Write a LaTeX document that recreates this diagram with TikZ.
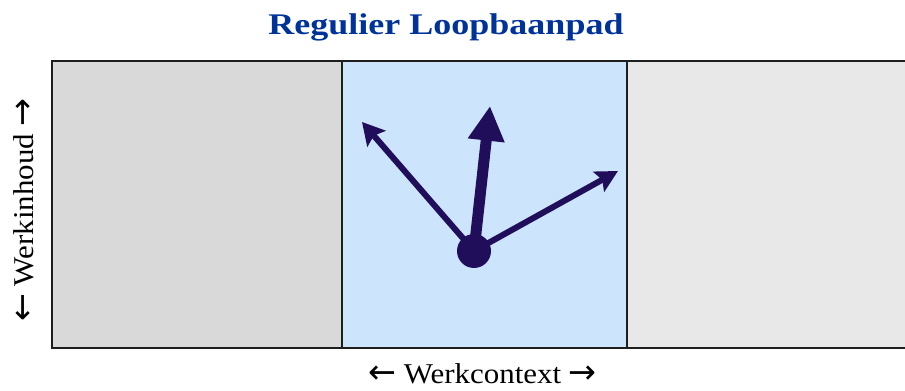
\documentclass[tikz,border=0pt]{standalone}
\usepackage{fontspec}
\usetikzlibrary{arrows.meta}
\newfontfamily\titlefont[FakeStretch=1.2]{Liberation Serif}
\newfontfamily\labelfont[FakeStretch=1.08]{Liberation Serif}
\newfontfamily\arrowfont{DejaVu Sans}
\newcommand{\larr}{{\arrowfont\fontsize{25}{28}\selectfont ←}}
\newcommand{\rarr}{{\arrowfont\fontsize{25}{28}\selectfont →}}
\definecolor{titleblue}{RGB}{0,51,153}
\definecolor{arrownavy}{RGB}{32,14,90}
\definecolor{panelleft}{RGB}{217,217,217}
\definecolor{panelmid}{RGB}{204,228,252}
\definecolor{panelright}{RGB}{232,232,232}
\definecolor{borderc}{RGB}{30,30,30}
\begin{document}
\begin{tikzpicture}[x=0.75pt,y=-0.75pt,
  panel/.style={draw=borderc,line width=1.5pt},
  careerarrow/.style={draw=arrownavy,line cap=butt},
  titletext/.style={font=\titlefont\fontsize{22.5}{27}\bfseries\selectfont,text=titleblue,inner sep=0pt},
  axistext/.style={font=\labelfont\fontsize{21.5}{26}\selectfont,text=black,inner sep=0pt}]
\useasboundingbox (0,0) rectangle (905,391);
\clip (0,0) rectangle (905,391);
% panels
\fill[panelleft] (52,61) rectangle (342,348);
\fill[panelmid] (342,61) rectangle (627,348);
\fill[panelright] (627,61) rectangle (912,348);
\draw[panel] (342,61) -- (342,348);
\draw[panel] (627,61) -- (627,348);
\draw[panel] (912,61) -- (52,61) -- (52,348) -- (912,348);
% texts
\node[titletext,anchor=base] (title) at (446,34.3) {Regulier Loopbaanpad};
\node[axistext,anchor=base] (xlabel) at (482.5,383.5) {\larr\ Werkcontext \rarr};
\node[axistext,anchor=base,rotate=90] (ylabel) at (33,210) {\larr\ Werkinhoud \rarr};
% arrows
\node[circle,fill=arrownavy,minimum size=25.5pt,inner sep=0pt] (origin) at (474,251) {};
\coordinate (tipA) at (362,122);
\coordinate (tipB) at (490,106);
\coordinate (tipC) at (618,171);
\draw[careerarrow,line width=4.5pt,-{Stealth[length=16.5pt,width=18pt,inset=3pt]}] (origin.center) -- (tipA);
\draw[careerarrow,line width=8.25pt,-{Triangle[length=26pt,width=26pt]}] (origin.center) -- (tipB);
\draw[careerarrow,line width=4.5pt,-{Stealth[length=16.5pt,width=17pt,inset=3pt]}] (origin.center) -- (tipC);
\end{tikzpicture}
\end{document}
